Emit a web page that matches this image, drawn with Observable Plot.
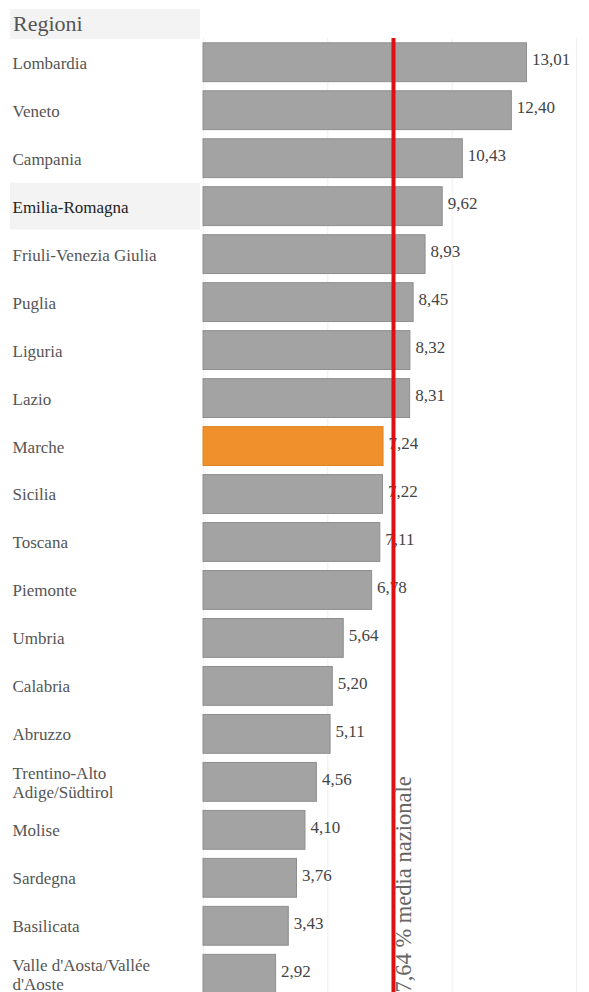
<!DOCTYPE html>
<html><head><meta charset="utf-8">
<script src="https://cdn.jsdelivr.net/npm/d3@7"></script>
<script src="https://cdn.jsdelivr.net/npm/@observablehq/plot@0.6"></script>
</head>
<body style="margin:0;padding:0;background:#fff;overflow:hidden;">
<div id="wrap" style="position:relative;width:589px;height:992px;">
<div id="hdr" style="position:absolute;left:10px;top:9px;width:187px;height:30px;padding-left:3px;background:#f3f3f3;font-family:'Liberation Serif';font-size:22px;color:#555;line-height:30px;">Regioni</div>
<div id="chart" style="position:absolute;left:0;top:0;"></div>
</div>
<script>
const regions = ["Lombardia","Veneto","Campania","Emilia-Romagna","Friuli-Venezia Giulia","Puglia","Liguria","Lazio","Marche","Sicilia","Toscana","Piemonte","Umbria","Calabria","Abruzzo","Trentino-Alto\nAdige/Südtirol","Molise","Sardegna","Basilicata","Valle d'Aosta/Vallée\nd'Aoste"];
const values = [13.01,12.40,10.43,9.62,8.93,8.45,8.32,8.31,7.24,7.22,7.11,6.78,5.64,5.20,5.11,4.56,4.10,3.76,3.43,2.92];
const highlighted = "Marche";
const hovered = "Emilia-Romagna";
const nationalAvg = 7.64;
const avgLabel = "7,64 % media nazionale";
const gridTicks = [0,5,10,15];

const data = regions.map((r,i)=>({region:r, value:values[i]}));
const fmt = v => v.toFixed(2).replace(".", ",");
const serif = "'Liberation Serif'";

const chart = Plot.plot({
  width: 589, height: 998,
  marginLeft: 203, marginRight: 13, marginTop: 38, marginBottom: 0,
  style: {background: "transparent"},
  x: {domain: [0, 15], axis: null},
  y: {domain: regions, axis: null, paddingInner: 0.19, paddingOuter: 0.1, round: false},
  marks: [
    Plot.ruleX(gridTicks, {stroke: "#efefef", strokeWidth: 1}),
    Plot.barX(data.filter(d => d.region === hovered), {x1: 0, x2: 0, y: "region", fill: "#f3f3f3", insetLeft: -193, insetRight: 3, insetTop: -4, insetBottom: -4}),
    Plot.barX(data, {x: "value", y: "region", fill: d => d.region === highlighted ? "#f0902c" : "#a3a3a3", stroke: d => d.region === highlighted ? "#e08420" : "#8e8e8e", strokeWidth: 1}),
    Plot.text(data, {x: 0, y: "region", text: "region", textAnchor: "start", dx: -191, fontSize: 17, lineHeight: 1.1, fill: d => d.region === hovered ? "#222" : "#555", fontWeight: d => d.region === hovered ? "bold" : "normal"}),
    Plot.text(data, {x: "value", y: "region", text: d => fmt(d.value), textAnchor: "start", dx: 5, dy: -3, fontSize: 17, fill: "#444"}),
    Plot.ruleX([nationalAvg], {stroke: "#e01010", strokeWidth: 4}),
    Plot.text([nationalAvg], {x: d => d, frameAnchor: "bottom", text: () => avgLabel, rotate: -90, textAnchor: "start", dx: 18, dy: -6, fontSize: 22.5, fill: "#666"})
  ]
});
chart.style.setProperty("font-family", serif, "important");
chart.querySelectorAll("text, tspan, g").forEach(el => el.style.setProperty("font-family", serif, "important"));
document.getElementById("chart").appendChild(chart);
</script>
</body></html>
